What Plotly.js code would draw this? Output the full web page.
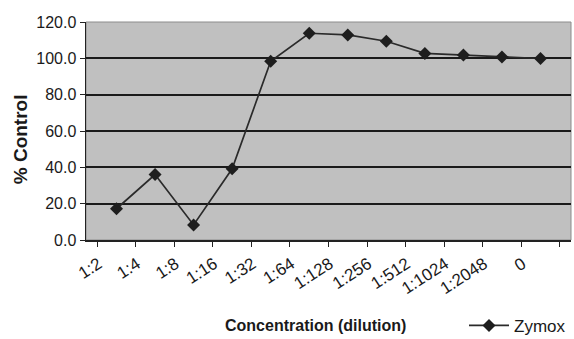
<!DOCTYPE html>
<html>
<head>
<meta charset="utf-8">
<script src="https://cdn.plot.ly/plotly-3.0.1.min.js"></script>
<style>
  html, body { margin: 0; padding: 0; background: #ffffff; }
  #chart { width: 574px; height: 339px; }
</style>
</head>
<body>
<div id="chart"></div>
<script>
// Dilution series (x categories) and measured response as % of control
const dilutions = ["1:2", "1:4", "1:8", "1:16", "1:32", "1:64", "1:128", "1:256", "1:512", "1:1024", "1:2048", "0"];
const zymox = [17.2, 36.0, 8.3, 39.2, 98.4, 113.8, 112.9, 109.4, 102.7, 101.8, 100.7, 99.9];
const yTicks = [0, 20, 40, 60, 80, 100, 120];
const yTickLabels = ["0.0", "20.0", "40.0", "60.0", "80.0", "100.0", "120.0"];

const font = "Liberation Sans, Arial, sans-serif";

const trace = {
  type: "scatter",
  mode: "lines+markers",
  name: "Zymox",
  x: dilutions,
  y: zymox,
  line: { color: "#2a2a2a", width: 1.7 },
  marker: { symbol: "diamond", size: 10, color: "#1e1e1e" }
};

const layout = {
  width: 574,
  height: 339,
  margin: { l: 86, r: 3, t: 22, b: 99, autoexpand: false },
  paper_bgcolor: "#ffffff",
  plot_bgcolor: "#c0c0c0",
  font: { family: font, color: "#222222", size: 14 },
  showlegend: true,
  legend: {
    x: 1.0, y: -0.394, xanchor: "right", yanchor: "middle",
    bgcolor: "rgba(0,0,0,0)",
    font: { family: font, size: 17, color: "#1a1a1a" },
    itemwidth: 40
  },
  xaxis: {
    type: "category",
    automargin: false,
    tickangle: -33,
    tickson: "boundaries",
    ticks: "outside",
    ticklen: 5,
    tickcolor: "#222222",
    ticklabelshift: -18,
    ticklabelstandoff: 6,
    showline: true,
    linecolor: "#222222",
    linewidth: 1.5,
    showgrid: false,
    zeroline: false,
    tickfont: { family: font, size: 17, color: "#1a1a1a" },
    fixedrange: true
  },
  yaxis: {
    automargin: false,
    range: [0, 120],
    tickvals: yTicks,
    ticktext: yTickLabels,
    ticks: "outside",
    ticklen: 5,
    tickcolor: "#222222",
    showline: true,
    linecolor: "#222222",
    linewidth: 1.5,
    showgrid: true,
    gridcolor: "#1a1a1a",
    gridwidth: 2,
    zeroline: false,
    tickfont: { family: font, size: 16, color: "#1a1a1a" },
    fixedrange: true
  },
  shapes: [
    { type: "rect", xref: "paper", yref: "paper", x0: 0, x1: 1, y0: 0, y1: 1,
      line: { color: "#8c8c8c", width: 1 }, fillcolor: "rgba(0,0,0,0)", layer: "below" }
  ],
  annotations: [
    { text: "<b>Concentration (dilution)</b>", xref: "paper", yref: "paper",
      x: 0.474, y: -0.394, xanchor: "center", yanchor: "middle", showarrow: false,
      font: { family: font, size: 16, color: "#1a1a1a" } },
    { text: "<b>% Control</b>", xref: "paper", yref: "paper",
      x: -0.135, y: 0.46, xanchor: "center", yanchor: "middle", textangle: -90, showarrow: false,
      font: { family: font, size: 19, color: "#1a1a1a" } }
  ]
};

Plotly.newPlot("chart", [trace], layout, { displayModeBar: false, staticPlot: true });
</script>
</body>
</html>
